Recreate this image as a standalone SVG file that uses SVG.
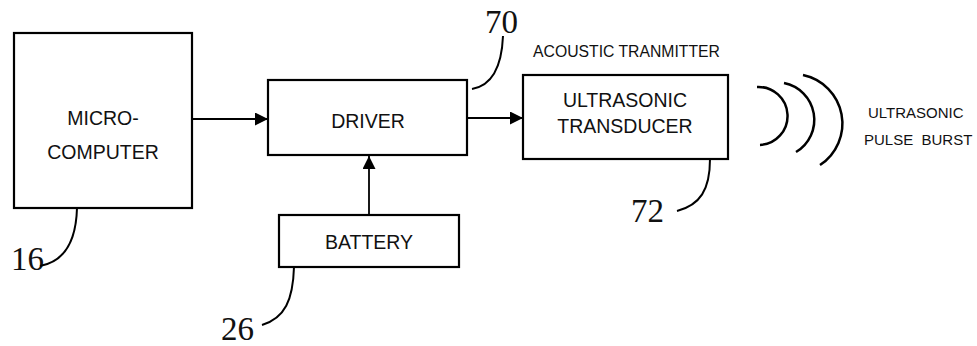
<svg xmlns="http://www.w3.org/2000/svg" width="977" height="346" viewBox="0 0 977 346">
<style>
.box{fill:#fff;stroke:#000;stroke-width:2.2}
.lbl{font-family:"Liberation Sans",Arial,sans-serif;font-size:19.5px;fill:#111;text-anchor:middle}
.sm{font-family:"Liberation Sans",Arial,sans-serif;font-size:16px;fill:#111}
.pl{font-family:"Liberation Sans",Arial,sans-serif;font-size:15px;fill:#111}
.num{font-family:"Liberation Serif","Times New Roman",serif;font-size:33px;fill:#111}
.ln{fill:none;stroke:#000;stroke-width:1.8}
.lead{fill:none;stroke:#000;stroke-width:2}
.wave{fill:none;stroke:#000;stroke-width:2.5}
</style>
<defs>
<marker id="ah" viewBox="0 0 13 13" refX="13" refY="6.5" markerWidth="13" markerHeight="13" markerUnits="userSpaceOnUse" orient="auto">
<path d="M0,0 L13,6.5 L0,13 Z" fill="#000"/>
</marker>
</defs>
<rect width="977" height="346" fill="#fff"/>
<g id="microcomputer">
<rect class="box" x="14" y="33" width="178" height="175"/>
<text class="lbl" x="103" y="125">MICRO-</text>
<text class="lbl" x="103" y="159">COMPUTER</text>
</g>
<g id="driver">
<rect class="box" x="268" y="80" width="199" height="75"/>
<text class="lbl" x="368" y="128">DRIVER</text>
</g>
<g id="battery">
<rect class="box" x="279" y="215" width="180" height="52"/>
<text class="lbl" x="369" y="249">BATTERY</text>
</g>
<g id="transducer">
<text class="sm" x="533" y="57" textLength="187" lengthAdjust="spacingAndGlyphs">ACOUSTIC TRANMITTER</text>
<rect class="box" x="523" y="75" width="205" height="84"/>
<text class="lbl" x="625" y="107">ULTRASONIC</text>
<text class="lbl" x="625" y="133">TRANSDUCER</text>
</g>
<g id="pulse">
<path class="wave" d="M757,87 A29,29 0 0 1 760,145"/>
<path class="wave" d="M784,83 A37.5,37.5 0 0 1 796,152"/>
<path class="wave" d="M803,75 A49.6,49.6 0 0 1 820,165"/>
<text class="pl" x="868" y="118">ULTRASONIC</text>
<text class="pl" x="864" y="145" xml:space="preserve">PULSE  BURST</text>
</g>
<g id="labels">
<text class="num" x="11" y="270">16</text>
<path class="lead" d="M40,266 C62,262 76,245 77,208"/>
<text class="num" x="485" y="33">70</text>
<path class="lead" d="M472,89 C495,85 502,60 503,36"/>
<text class="num" x="631" y="222">72</text>
<path class="lead" d="M677,211 C700,205 710,190 710,159"/>
<text class="num" x="221" y="340">26</text>
<path class="lead" d="M262,325 C285,318 293,300 294,267"/>
</g>
<g id="connectors">
<line class="ln" x1="192" y1="119" x2="268" y2="119" marker-end="url(#ah)"/>
<line class="ln" x1="467" y1="118" x2="523" y2="118" marker-end="url(#ah)"/>
<line class="ln" x1="369" y1="215" x2="369" y2="156" marker-end="url(#ah)"/>
</g>
</svg>
